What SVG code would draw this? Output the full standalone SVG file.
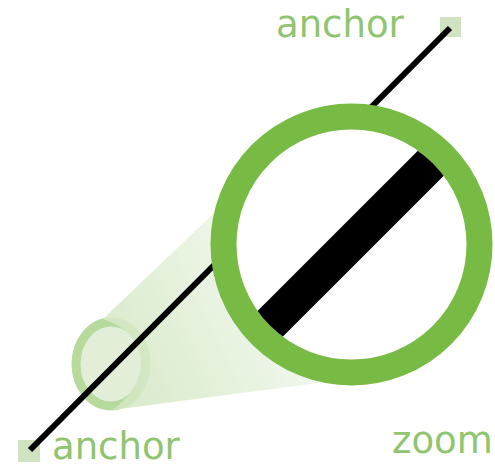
<svg xmlns="http://www.w3.org/2000/svg" width="495" height="468" viewBox="0 0 495 468">
  <style>
    .lbl { font-family: "DejaVu Sans", "Liberation Sans", sans-serif; font-size: 37px; fill: #8fc470; }
    .anchor { fill: #cfe3c0; }
  </style>
  <defs>
    <linearGradient id="cone" gradientUnits="userSpaceOnUse" x1="111" y1="364" x2="300" y2="270">
      <stop offset="0" stop-color="#d3e7c3" stop-opacity="0.85"/>
      <stop offset="1" stop-color="#f4f9f0" stop-opacity="0.9"/>
    </linearGradient>
    <clipPath id="lens">
      <circle cx="351.5" cy="244.5" r="115"/>
    </clipPath>
  </defs>
  <rect width="495" height="468" fill="#ffffff"/>

  <g id="small-lens">
    <ellipse cx="111" cy="364" rx="35" ry="42" fill="#e2eed8" stroke="#b6da9c" stroke-width="9"/>
  </g>
  <g id="cone-beam">
    <path d="M103,319 L215,212 L330,300 L318,383 L112,410 Q135,395 142,364 Q138,330 103,319 Z" fill="url(#cone)"/>
  </g>

  <g id="anchor-top">
    <rect class="anchor" x="440" y="17" width="21" height="20"/>
    <text class="lbl" x="276" y="37">anchor</text>
  </g>
  <g id="anchor-bottom">
    <rect class="anchor" x="18" y="440" width="22" height="22"/>
    <text class="lbl" x="52" y="459">anchor</text>
  </g>

  <g id="connectors">
    <line x1="30" y1="450" x2="450" y2="28" stroke="#000000" stroke-width="6"/>
  </g>

  <g id="zoom-lens">
    <circle cx="351.5" cy="244.5" r="128" fill="#ffffff" stroke="#77bb44" stroke-width="26"/>
    <line x1="200" y1="394" x2="500" y2="94" stroke="#000000" stroke-width="36" clip-path="url(#lens)"/>
  </g>

  <g id="zoom-label">
    <text class="lbl" x="392" y="453">zoom</text>
  </g>
</svg>
